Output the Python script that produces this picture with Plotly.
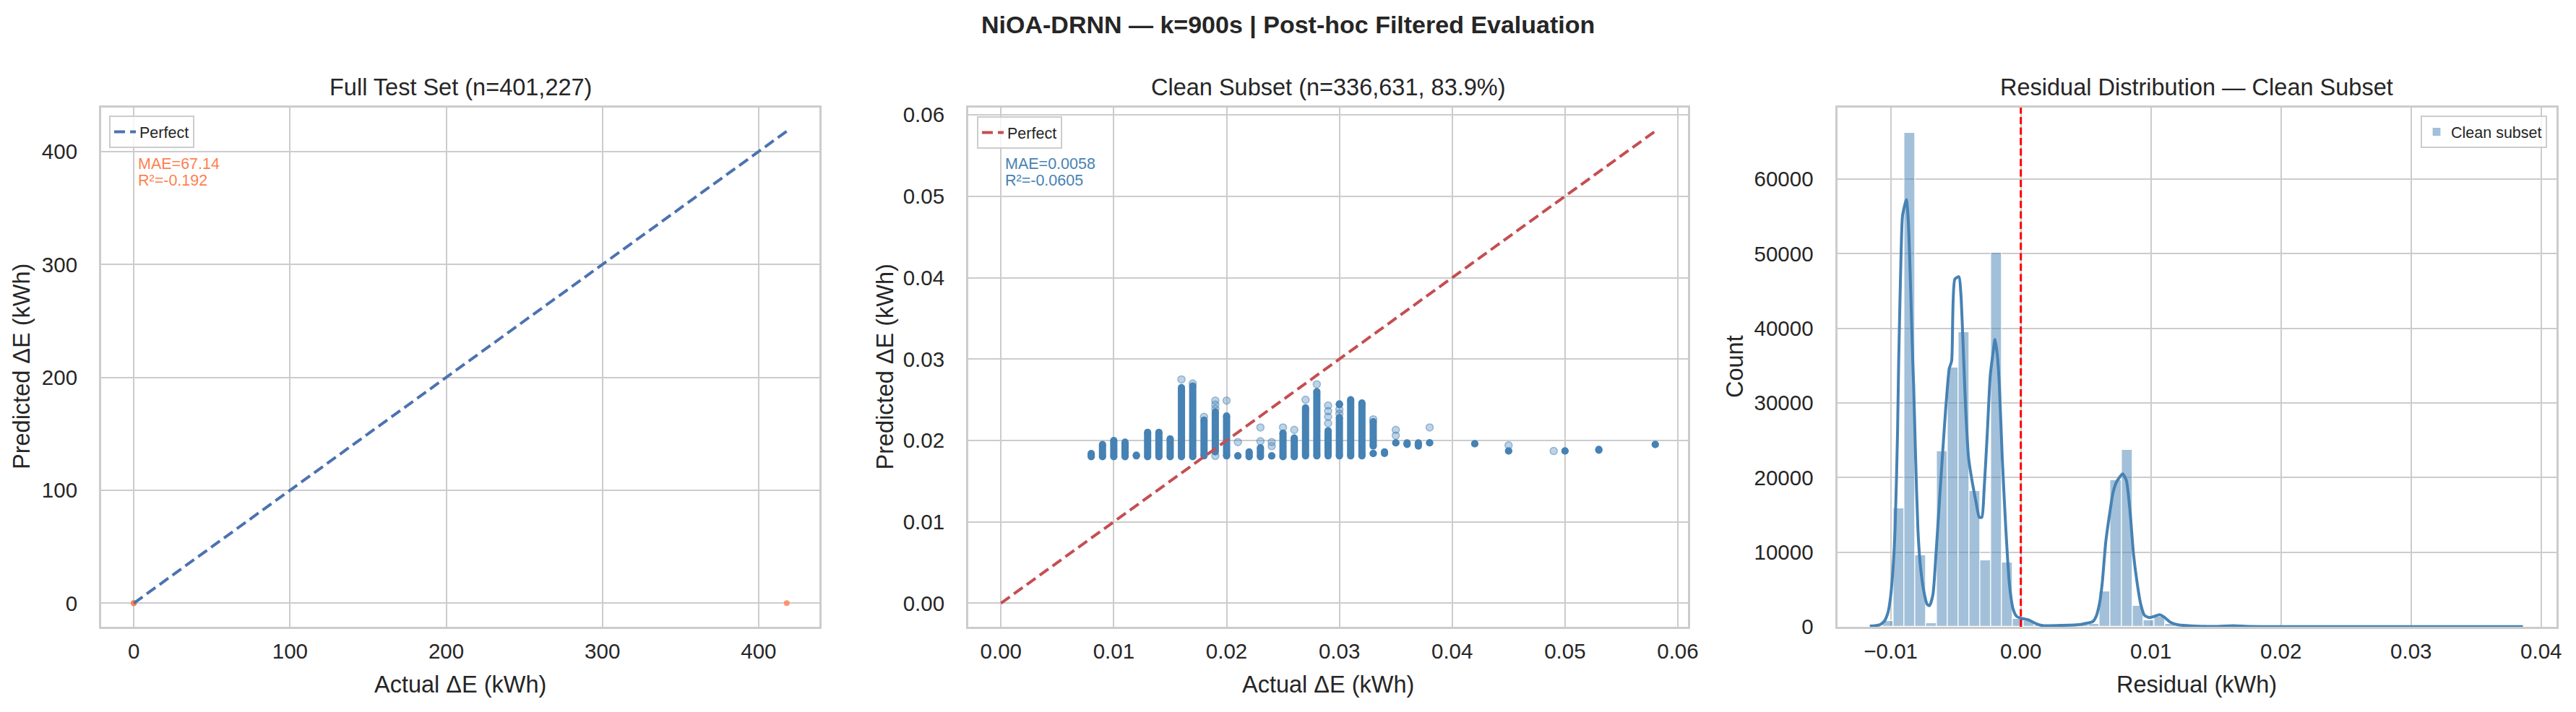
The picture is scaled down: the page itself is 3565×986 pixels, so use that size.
import numpy as np
import plotly.graph_objects as go

W, H = 3565, 986

# ---------------- data ----------------
# Panel 1: full test set (actual vs predicted, kWh)
full_actual = [0.008, 0.016, 0.030, 418.0]
full_pred = [0.018, 0.026, 0.024, 0.019]
full_max = 418.0
full_mae = "67.14"
full_r2 = "-0.192"

# Panel 2: clean subset, dense columns of points (actual value, pred min, pred max)
col_x = [0.008, 0.009, 0.010, 0.011, 0.012, 0.013, 0.014, 0.015, 0.016, 0.017,
         0.018, 0.019, 0.020, 0.021, 0.022, 0.023, 0.024, 0.025, 0.026, 0.027,
         0.028, 0.029, 0.030, 0.030, 0.031, 0.032, 0.033, 0.033, 0.034, 0.035,
         0.036, 0.037, 0.038, 0.042, 0.045, 0.050, 0.053, 0.058]
col_lo = [0.0180, 0.0180, 0.0180, 0.0180, 0.0181, 0.0180, 0.0180, 0.0180, 0.0180, 0.0180,
          0.0181, 0.0186, 0.0181, 0.0181, 0.0180, 0.0180, 0.0181, 0.0180, 0.0180, 0.0181,
          0.0181, 0.0181, 0.0181, 0.0244, 0.0181, 0.0181, 0.0193, 0.0184, 0.0184, 0.0197,
          0.0195, 0.0193, 0.0197, 0.0196, 0.0187, 0.0187, 0.0188, 0.0195]
col_hi = [0.0184, 0.0195, 0.0200, 0.0198, 0.0182, 0.0210, 0.0210, 0.0202, 0.0265, 0.0267,
          0.0225, 0.0235, 0.0230, 0.0181, 0.0186, 0.0191, 0.0181, 0.0209, 0.0203, 0.0240,
          0.0260, 0.0212, 0.0228, 0.0245, 0.0250, 0.0246, 0.0223, 0.0184, 0.0186, 0.0197,
          0.0197, 0.0197, 0.0197, 0.0196, 0.0187, 0.0187, 0.0189, 0.0195]
faint_x = [0.016, 0.017, 0.018, 0.019, 0.019, 0.019, 0.019, 0.020, 0.021, 0.023, 0.023,
           0.024, 0.024, 0.025, 0.026, 0.027, 0.028, 0.029, 0.029, 0.029, 0.029, 0.030,
           0.030, 0.033, 0.035, 0.035, 0.038, 0.045, 0.049]
faint_y = [0.0275, 0.0270, 0.0229, 0.0249, 0.0244, 0.0239, 0.0181, 0.0249, 0.0198, 0.0216, 0.0199,
           0.0198, 0.0193, 0.0216, 0.0213, 0.0250, 0.0269, 0.0243, 0.0236, 0.0229, 0.0221, 0.0238,
           0.0233, 0.0226, 0.0213, 0.0206, 0.0216, 0.0194, 0.0187]
clean_max = 0.058
clean_mae = "0.0058"
clean_r2 = "-0.0605"

# Panel 3: residual histogram of the clean subset
hist_start = -0.011466
hist_bin = 0.000835
hist_counts = [60, 740, 15850, 66200, 9550, 480, 23500, 34800, 39500, 18170,
               8870, 50100, 8580, 1030, 800, 200, 90, 150, 250, 350,
               380, 4780, 19620, 23750, 2840, 900, 1400, 350, 150, 80,
               50, 40, 60, 120, 60, 15, 12, 10, 8, 8,
               6, 5, 5, 4, 4, 3, 3, 3, 2, 2,
               2, 2, 2, 1, 1, 1, 1, 1, 1, 2]
kde_x = [-0.01161, -0.01087, -0.0105, -0.01022, -0.01004, -0.00985, -0.00967, -0.00948,
         -0.00939, -0.0092, -0.00909, -0.0088, -0.00865, -0.00846, -0.00831, -0.00824,
         -0.00809, -0.00791, -0.00772, -0.00744, -0.0072, -0.00702, -0.00676, -0.00652,
         -0.00628, -0.00606, -0.00578, -0.0055, -0.00532, -0.00507, -0.00476, -0.00461,
         -0.00439, -0.00424, -0.00402, -0.00374, -0.00346, -0.00319, -0.003, -0.00282,
         -0.00258, -0.00235, -0.00217, -0.00198, -0.0018, -0.00165, -0.00143, -0.00115,
         -0.00087, -0.00059, -0.00032, 0.00005, 0.00061, 0.00116, 0.00168, 0.0032,
         0.00462, 0.00505, 0.00552, 0.00579, 0.00607, 0.00626, 0.00653, 0.00681,
         0.00709, 0.00737, 0.00783, 0.00811, 0.00839, 0.00866, 0.00894, 0.00922,
         0.0095, 0.00987, 0.01024, 0.0107, 0.01107, 0.01153, 0.01209, 0.01338,
         0.0150, 0.0163, 0.0176, 0.0200, 0.0300, 0.0386]
kde_y = [100, 260, 740, 1870, 3650, 7200, 13000, 25900,
         35600, 50470, 55150, 57250, 54350, 44660, 35620, 32370,
         22690, 13000, 8160, 4610, 3000, 2840, 4290, 9780,
         16230, 22040, 29140, 34620, 35620, 46600, 46920, 44660,
         35620, 29140, 22690, 19460, 16880, 14680, 14680, 18490,
         25910, 33660, 36270, 38520, 36270, 32370, 22690, 13000,
         5580, 2360, 1390, 1130, 900, 420, 160, 190,
         320, 480, 680, 1390, 3320, 5900, 11390, 14940,
         18000, 19460, 20490, 19620, 15590, 9780, 5900, 3000,
         1550, 1230, 1390, 1610, 1230, 580, 260, 100,
         50, 150, 50, 30, 20, 15]

# ---------------- styling ----------------
FONT = "Liberation Sans, Arial, sans-serif"
TXT = "#262626"
GRID = "#CCCCCC"
STEEL = "#4682B4"

dom1 = [140 / W, 1134 / W]
dom2 = [1340 / W, 2336 / W]
dom3 = [2542.5 / W, 3538 / W]
ydom = [1 - 868 / H, 1 - 149 / H]


def py(px):
    return 1 - px / H


def px_(x):
    return x / W


fig = go.Figure()

# Panel 1
fig.add_trace(go.Scatter(x=full_actual, y=full_pred, mode="markers",
                         marker=dict(color="#FF7F50", size=8, opacity=0.8),
                         showlegend=False, xaxis="x", yaxis="y"))
fig.add_trace(go.Scatter(x=[0, full_max], y=[0, full_max], mode="lines",
                         line=dict(color="#4C72B0", width=4, dash="15px,7px"),
                         name="Perfect", legend="legend", xaxis="x", yaxis="y"))

# Panel 2
sx, sy = [], []
for x, lo, hi in zip(col_x, col_lo, col_hi):
    sx += [x, x, None]
    sy += [lo, hi, None]
fig.add_trace(go.Scatter(x=faint_x, y=faint_y, mode="markers",
                         marker=dict(color="rgba(70,130,180,0.35)", size=10,
                                     line=dict(color="rgba(70,130,180,0.5)", width=1.5)),
                         showlegend=False, xaxis="x2", yaxis="y2"))
fig.add_trace(go.Scatter(x=sx, y=sy, mode="lines+markers",
                         line=dict(color=STEEL, width=10),
                         marker=dict(color=STEEL, size=10),
                         showlegend=False, xaxis="x2", yaxis="y2"))
fig.add_trace(go.Scatter(x=[0, clean_max], y=[0, clean_max], mode="lines",
                         line=dict(color="#C44E52", width=4, dash="15px,7px"),
                         name="Perfect", legend="legend2", xaxis="x2", yaxis="y2"))

# Panel 3
edges = hist_start + hist_bin * np.arange(len(hist_counts) + 1)
centers = (edges[:-1] + edges[1:]) / 2
fig.add_trace(go.Bar(x=centers, y=hist_counts, width=hist_bin,
                     marker=dict(color="rgba(70,130,180,0.5)",
                                 line=dict(color="white", width=1.2)),
                     name="Clean subset", legend="legend3", xaxis="x3", yaxis="y3"))
fig.add_trace(go.Scatter(x=kde_x, y=kde_y, mode="lines",
                         line=dict(color=STEEL, width=4, shape="spline", smoothing=0.6),
                         showlegend=False, xaxis="x3", yaxis="y3"))
fig.add_shape(type="line", xref="x3", yref="paper", x0=0, x1=0, y0=ydom[0], y1=ydom[1],
              line=dict(color="red", width=3, dash="10px,4.5px"))

axis_common = dict(showgrid=True, gridcolor=GRID, gridwidth=2, zeroline=False,
                   showline=True, linecolor=GRID, linewidth=3, mirror=True,
                   ticks="outside", tickcolor="rgba(0,0,0,0)", automargin=False,
                   tickfont=dict(family=FONT, size=29.5, color=TXT))

XTL = 6
YTL = 24
fig.update_layout(
    template="none",
    width=W, height=H, margin=dict(l=0, r=0, t=0, b=0, pad=0, autoexpand=False),
    paper_bgcolor="white", plot_bgcolor="white", bargap=0,
    xaxis=dict(domain=dom1, range=[-20.9, 438.9], dtick=100, anchor="y", ticklen=XTL, **axis_common),
    yaxis=dict(domain=ydom, range=[-20.9, 438.9], dtick=100, anchor="x", ticklen=YTL, **axis_common),
    xaxis2=dict(domain=dom2, range=[-0.0029, 0.0609], dtick=0.01, tickformat=".2f", anchor="y2", ticklen=XTL, **axis_common),
    yaxis2=dict(domain=ydom, range=[-0.0029, 0.0609], dtick=0.01, tickformat=".2f", anchor="x2", ticklen=YTL, **axis_common),
    xaxis3=dict(domain=dom3, range=[-0.01412, 0.04118], dtick=0.01, tickformat=".2f", anchor="y3", ticklen=XTL, **axis_common),
    yaxis3=dict(domain=ydom, range=[0, 69600], dtick=10000, tickformat="d", anchor="x3", ticklen=YTL, **axis_common),
    legend=dict(x=px_(151), y=py(160), xanchor="left", yanchor="top",
                bgcolor="rgba(255,255,255,0.8)", bordercolor=GRID, borderwidth=2,
                font=dict(family=FONT, size=21.5, color=TXT)),
    legend2=dict(x=px_(1352), y=py(161), xanchor="left", yanchor="top",
                 bgcolor="rgba(255,255,255,0.8)", bordercolor=GRID, borderwidth=2,
                 font=dict(family=FONT, size=21.5, color=TXT)),
    legend3=dict(x=px_(3525), y=py(160), xanchor="right", yanchor="top",
                 bgcolor="rgba(255,255,255,0.8)", bordercolor=GRID, borderwidth=2,
                 font=dict(family=FONT, size=21.5, color=TXT)),
)

ann = []


def text(x, y, s, size, color=TXT, xanchor="center", yanchor="middle", angle=0, bold=False):
    if bold:
        s = "<b>" + s + "</b>"
    ann.append(dict(x=px_(x), y=py(y), xref="paper", yref="paper", text=s, showarrow=False,
                    xanchor=xanchor, yanchor=yanchor, textangle=angle,
                    font=dict(family=FONT, size=size, color=color)))


text(1782, 34, "NiOA-DRNN — k=900s | Post-hoc Filtered Evaluation", 34, bold=True)
text(637, 121, "Full Test Set (n=401,227)", 32.5)
text(1838, 121, "Clean Subset (n=336,631, 83.9%)", 32.5)
text(3040, 121, "Residual Distribution — Clean Subset", 32.5)
text(637, 948, "Actual ΔE (kWh)", 32.5)
text(1838, 948, "Actual ΔE (kWh)", 32.5)
text(3040, 948, "Residual (kWh)", 32.5)
text(30, 508, "Predicted ΔE (kWh)", 32.5, angle=-90)
text(1224.5, 508, "Predicted ΔE (kWh)", 32.5, angle=-90)
text(2401, 508, "Count", 32.5, angle=-90)
text(189, 227, "MAE=" + full_mae, 21.5, color="#FF7F50", xanchor="left")
text(189, 249.5, "R²=" + full_r2, 21.5, color="#FF7F50", xanchor="left")
text(1389, 227, "MAE=" + clean_mae, 21.5, color=STEEL, xanchor="left")
text(1389, 249.5, "R²=" + clean_r2, 21.5, color=STEEL, xanchor="left")
fig.update_layout(annotations=ann)

fig.write_html("out.html")
